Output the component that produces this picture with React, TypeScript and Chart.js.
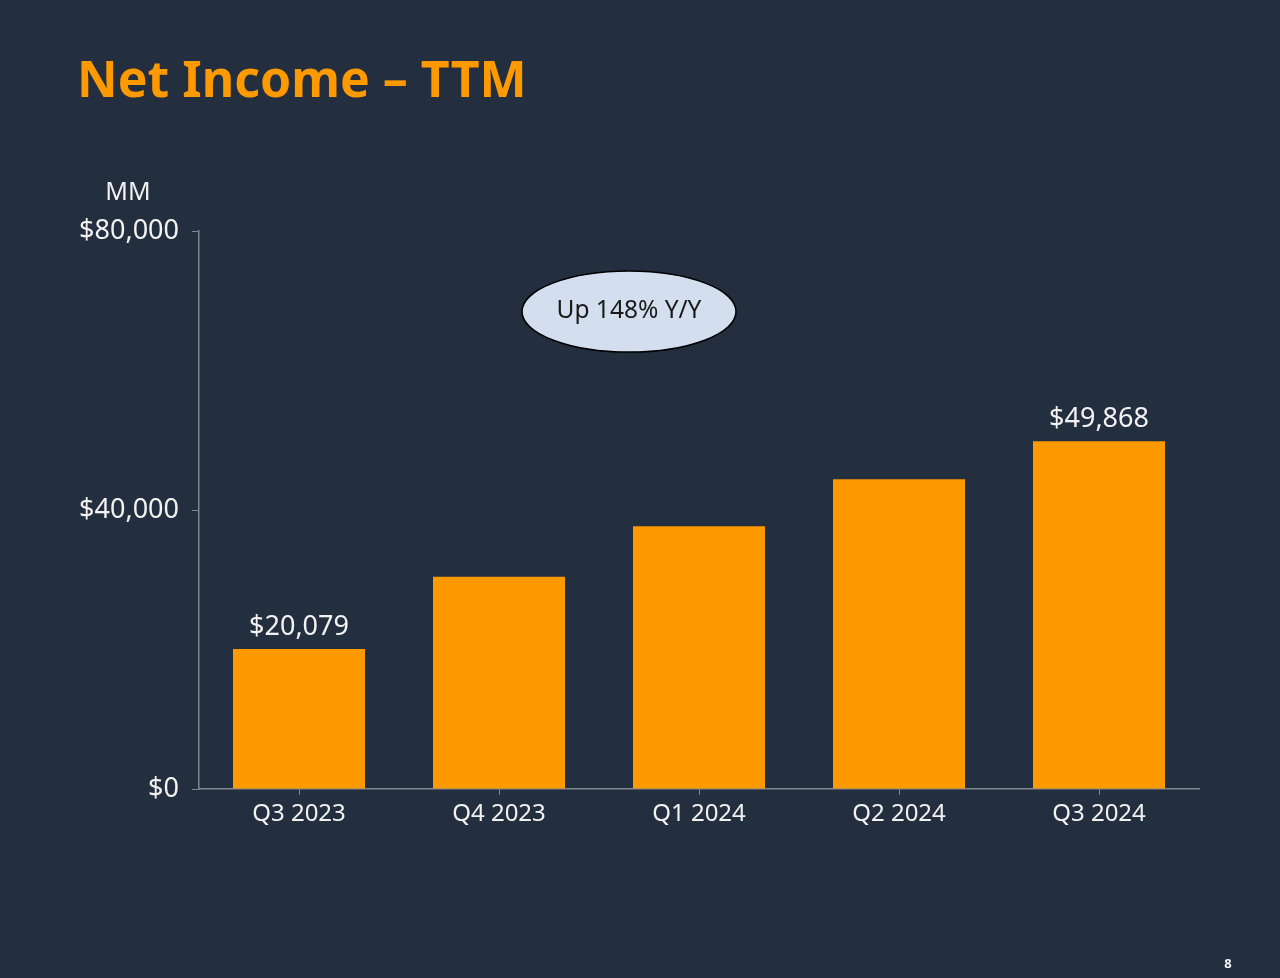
import React, { useEffect, useRef } from "react";
import { Chart, registerables } from "chart.js";

Chart.register(...registerables);

const categories = ["Q3 2023", "Q4 2023", "Q1 2024", "Q2 2024", "Q3 2024"];
const netIncomeTTM = [20079, 30425, 37684, 44419, 49868];
const dataLabels = ["$20,079", "", "", "", "$49,868"];
const yTicks = [0, 40000, 80000];
const titleText = "Net Income – TTM";
const unitText = "MM";
const calloutText = "Up 148% Y/Y";
const pageNumber = "8";

const BG = "#232F3E";
const ORANGE = "#FF9900";
const TEXT = "#F2F2F2";
const AXIS = "#7E8690";
const FONT = "'Noto Sans', 'Open Sans', sans-serif";

const overlayPlugin = {
  id: "overlay",
  beforeDraw(chart: any) {
    const { ctx, width, height } = chart;
    ctx.save();
    ctx.fillStyle = BG;
    ctx.fillRect(0, 0, width, height);
    ctx.restore();
  },
  afterDraw(chart: any) {
    const { ctx } = chart;
    const xs = chart.scales.x;
    const ys = chart.scales.y;
    ctx.save();
    // title
    ctx.fillStyle = ORANGE;
    ctx.font = `bold 50px ${FONT}`;
    ctx.textAlign = "left";
    ctx.textBaseline = "alphabetic";
    ctx.fillText(titleText, 77, 97);
    // unit
    ctx.fillStyle = TEXT;
    ctx.font = `25px ${FONT}`;
    ctx.textAlign = "center";
    ctx.textBaseline = "middle";
    ctx.fillText(unitText, 128, 193);
    // data labels
    ctx.font = `27px ${FONT}`;
    ctx.textBaseline = "alphabetic";
    const meta = chart.getDatasetMeta(0);
    meta.data.forEach((bar: any, i: number) => {
      const lbl = dataLabels[i];
      if (!lbl) return;
      ctx.fillText(lbl, bar.x, bar.y - 14);
    });
    // callout ellipse
    const cx = xs.left + (629 - 199) / 1000 * (xs.right - xs.left);
    const cy = ys.getPixelForValue(68450);
    ctx.beginPath();
    ctx.ellipse(cx, cy, 107, 40.5, 0, 0, Math.PI * 2);
    ctx.fillStyle = "#D3DFEE";
    ctx.fill();
    ctx.lineWidth = 1.5;
    ctx.strokeStyle = "#000000";
    ctx.stroke();
    ctx.fillStyle = "#1A1A1A";
    ctx.font = `24.5px ${FONT}`;
    ctx.textAlign = "center";
    ctx.textBaseline = "middle";
    ctx.fillText(calloutText, cx, cy - 1);
    // page number
    ctx.fillStyle = TEXT;
    ctx.font = `bold 13px ${FONT}`;
    ctx.fillText(pageNumber, 1228, 964);
    ctx.restore();
  },
};

export default function App() {
  const ref = useRef<HTMLCanvasElement | null>(null);
  useEffect(() => {
    document.body.style.margin = "0";
    document.body.style.background = BG;
    const canvas = ref.current!;
    const chart = new Chart(canvas, {
      type: "bar",
      data: {
        labels: categories,
        datasets: [
          {
            data: netIncomeTTM,
            backgroundColor: ORANGE,
            borderWidth: 0,
            barPercentage: 0.66,
            categoryPercentage: 1,
          },
        ],
      },
      options: {
        animation: false,
        responsive: false,
        maintainAspectRatio: false,
        layout: { padding: { left: 0, right: 81, top: 231, bottom: 129 } },
        plugins: {
          legend: { display: false },
          tooltip: { enabled: false },
          title: { display: false },
        },
        scales: {
          x: {
            offset: true,
            grid: {
              offset: false,
              drawOnChartArea: false,
              drawTicks: true,
              tickLength: 6,
              color: AXIS,
            },
            border: { display: true, color: AXIS, width: 1.5 },
            ticks: {
              color: TEXT,
              font: { family: FONT, size: 24 },
              padding: 5,
              maxRotation: 0,
            },
            afterFit(scale: any) {
              scale.height = 60;
            },
          },
          y: {
            min: 0,
            max: 80000,
            afterBuildTicks(scale: any) {
              scale.ticks = yTicks.map((v) => ({ value: v }));
            },
            grid: {
              drawOnChartArea: false,
              drawTicks: true,
              tickLength: 7,
              color: AXIS,
            },
            border: { display: true, color: AXIS, width: 1.5 },
            ticks: {
              color: TEXT,
              font: { family: FONT, size: 27 },
              padding: 13,
              callback: (v: any) => "$" + Number(v).toLocaleString("en-US"),
            },
            afterFit(scale: any) {
              scale.width = 199;
            },
          },
        },
      },
      plugins: [overlayPlugin],
    });
    return () => chart.destroy();
  }, []);
  return (
    <div style={{ position: "fixed", left: 0, top: 0, width: 1280, height: 978, background: BG }}>
      <canvas ref={ref} width={1280} height={978} style={{ width: 1280, height: 978, display: "block" }} />
    </div>
  );
}
